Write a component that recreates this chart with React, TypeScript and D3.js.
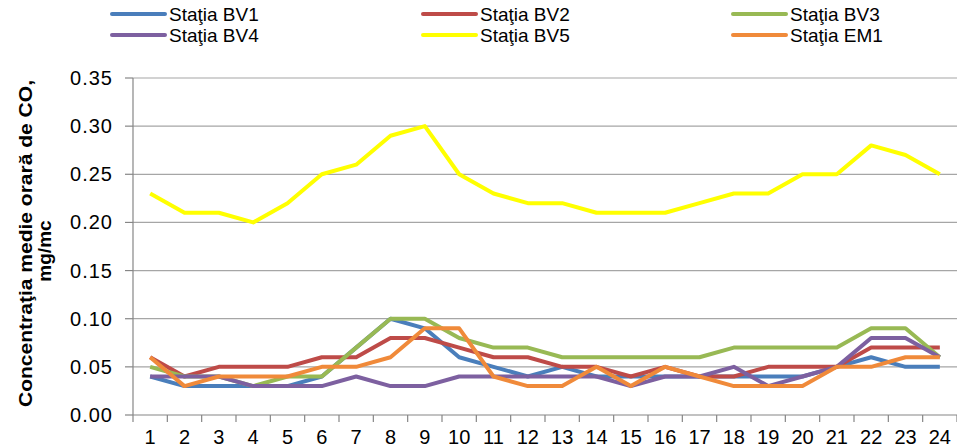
import React from "react";
import * as d3 from "d3";

const hours = d3.range(1, 25).map(String);
const seriesNames = ["Staţia BV1", "Staţia BV2", "Staţia BV3", "Staţia BV4", "Staţia BV5", "Staţia EM1"];
const bv1 = [0.04,0.03,0.03,0.03,0.03,0.04,0.07,0.10,0.09,0.06,0.05,0.04,0.05,0.04,0.04,0.04,0.04,0.04,0.04,0.04,0.05,0.06,0.05,0.05];
const bv2 = [0.06,0.04,0.05,0.05,0.05,0.06,0.06,0.08,0.08,0.07,0.06,0.06,0.05,0.05,0.04,0.05,0.04,0.04,0.05,0.05,0.05,0.07,0.07,0.07];
const bv3 = [0.05,0.04,0.04,0.03,0.04,0.04,0.07,0.10,0.10,0.08,0.07,0.07,0.06,0.06,0.06,0.06,0.06,0.07,0.07,0.07,0.07,0.09,0.09,0.06];
const bv4 = [0.04,0.04,0.04,0.03,0.03,0.03,0.04,0.03,0.03,0.04,0.04,0.04,0.04,0.04,0.03,0.04,0.04,0.05,0.03,0.04,0.05,0.08,0.08,0.06];
const bv5 = [0.23,0.21,0.21,0.20,0.22,0.25,0.26,0.29,0.30,0.25,0.23,0.22,0.22,0.21,0.21,0.21,0.22,0.23,0.23,0.25,0.25,0.28,0.27,0.25];
const em1 = [0.06,0.03,0.04,0.04,0.04,0.05,0.05,0.06,0.09,0.09,0.04,0.03,0.03,0.05,0.03,0.05,0.04,0.03,0.03,0.03,0.05,0.05,0.06,0.06];
const yTicks = [0, 0.05, 0.1, 0.15, 0.2, 0.25, 0.3, 0.35];
const colors = ["#4a7ebb", "#be4b48", "#98b954", "#7d60a0", "#ffff00", "#f08a3a"];
const yTitle = ["Concentraţia medie orară de CO,", "mg/mc"];

const W = 957, H = 448;
const left = 133, right = 957, top = 78, bottom = 415;
const FONT = "'Liberation Sans', Arial, sans-serif";

export default function App() {
  const all = [bv1, bv2, bv3, bv4, bv5, em1];
  const x = d3.scaleBand<string>().domain(hours).range([left, right]).padding(0);
  const y = d3.scaleLinear().domain([0, 0.35]).range([bottom, top]);
  const cx = (h: string) => (x(h) as number) + x.bandwidth() / 2;
  const line = d3
    .line<number>()
    .x((_, i) => cx(hours[i]))
    .y((d) => y(d));
  const legendCols = [112, 423, 733];
  const legendRows = [14, 35];
  return (
    <svg width={W} height={H} style={{ position: "absolute", left: 0, top: 0, background: "#fff" }} fontFamily={FONT}>
      {yTicks.map((t) => (
        <g key={t}>
          {t > 0 && <line x1={left} x2={right} y1={y(t)} y2={y(t)} stroke="#a6a6a6" strokeWidth={1.2} />}
          <line x1={left - 8} x2={left} y1={y(t)} y2={y(t)} stroke="#868686" strokeWidth={1.2} />
          <text x={113} y={y(t) + 7} textAnchor="end" fontSize={20} letterSpacing={1} fill="#000">
            {t.toFixed(2)}
          </text>
        </g>
      ))}
      <line x1={left} x2={left} y1={top} y2={bottom} stroke="#868686" strokeWidth={1.2} />
      <line x1={left} x2={right} y1={bottom} y2={bottom} stroke="#868686" strokeWidth={1.2} />
      {d3.range(0, hours.length + 1).map((i) => {
        const xx = left + i * x.bandwidth();
        return <line key={i} x1={xx} x2={xx} y1={bottom} y2={bottom + 7} stroke="#868686" strokeWidth={1.2} />;
      })}
      {hours.map((h) => (
        <text key={h} x={cx(h)} y={444} textAnchor="middle" fontSize={20} fill="#000">
          {h}
        </text>
      ))}
      {all.map((s, i) => (
        <path key={i} d={line(s) || ""} fill="none" stroke={colors[i]} strokeWidth={4} strokeLinejoin="round" />
      ))}
      <text transform={`translate(32,243.5) rotate(-90)`} textAnchor="middle" fontSize={19} fontWeight="bold" textLength={327} lengthAdjust="spacingAndGlyphs">
        {yTitle[0]}
      </text>
      <text transform={`translate(51,251) rotate(-90)`} textAnchor="middle" fontSize={19} fontWeight="bold">
        {yTitle[1]}
      </text>
      {seriesNames.map((n, i) => {
        const col = i % 3;
        const row = Math.floor(i / 3);
        const lx = legendCols[col];
        const ly = legendRows[row];
        return (
          <g key={n}>
            <line x1={lx} x2={lx + 53} y1={ly} y2={ly} stroke={colors[i]} strokeWidth={4} strokeLinecap="round" />
            <text x={lx + 57} y={ly + 6.5} fontSize={19} fill="#000">
              {n}
            </text>
          </g>
        );
      })}
    </svg>
  );
}
